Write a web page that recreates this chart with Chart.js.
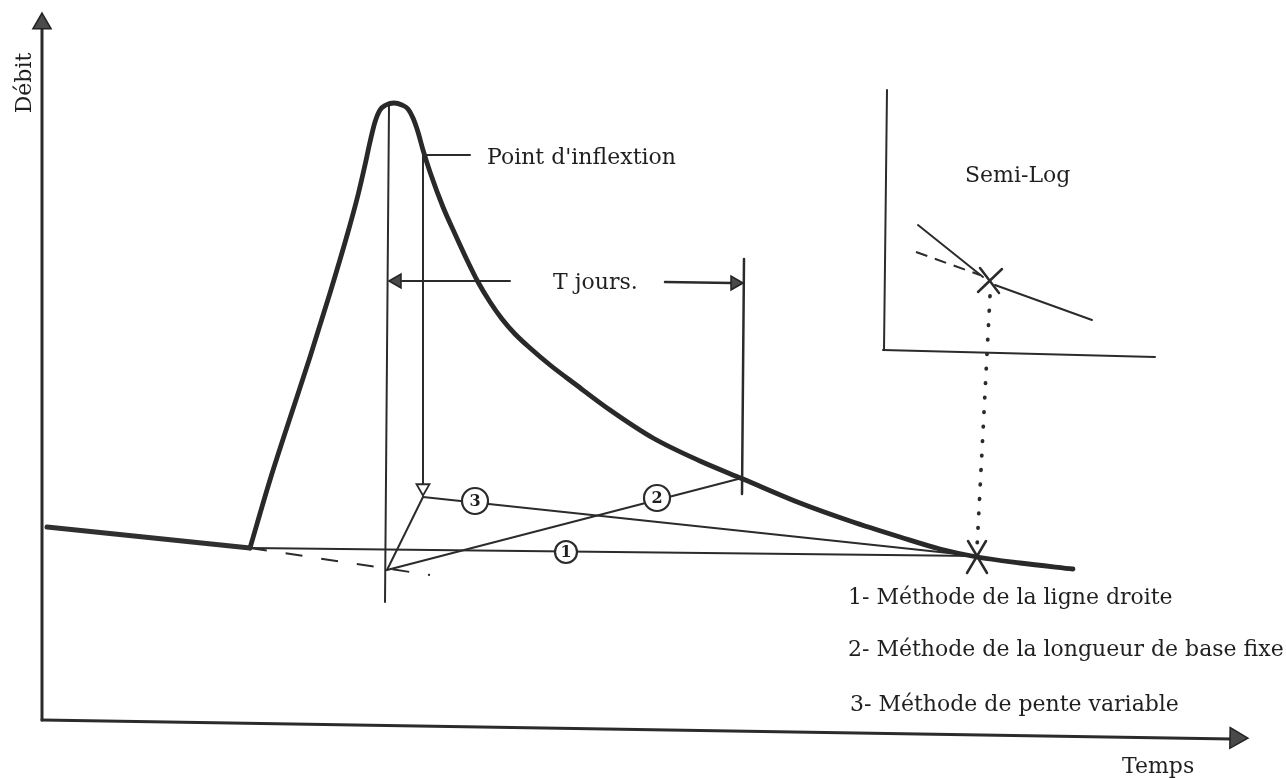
<!DOCTYPE html>
<html lang="fr">
<head>
<meta charset="utf-8">
<title>Séparation de l'écoulement de base</title>
<script src="https://cdn.jsdelivr.net/npm/chart.js@4.4.1/dist/chart.umd.min.js"></script>
<style>
  html, body { margin: 0; padding: 0; background: #ffffff; }
  #wrap { width: 1286px; height: 778px; position: relative; }
</style>
</head>
<body>
<div id="wrap"><canvas id="hydro"></canvas></div>
<script>
// Temps (t) / débit (Q) in drawing units, origin at the corner of the axes.

// Axes of the main graph
const axisDebit = [[0, 0], [0, 693]];
const axisTemps = [[0, 0], [1190, -19]];

// Baseflow recession before the flood, then the flood hydrograph
const baseflowBefore = [[5, 193], [208, 172]];
const hydrograph = [
  [208, 172], [228, 240], [248, 302], [268, 363], [288, 427], [306, 488],
  [316, 525], [323, 555], [328, 578], [333, 598], [338, 610], [344, 615],
  [352, 617], [360, 615], [366, 611], [371, 602], [376, 588], [381, 570],
  [388, 548], [401, 513], [413, 486], [425, 460], [436, 438], [448, 418],
  [460, 401], [473, 386], [488, 372], [508, 355], [533, 336], [568, 310],
  [611, 282], [658, 259], [701, 241], [758, 217], [808, 199], [858, 183],
  [898, 171], [935, 163], [978, 157], [1031, 151]
];

// Construction lines
const peakVertical = [[347, 614], [343, 118]];
const inflexionVertical = [[381, 565], [381, 229]];
const inflexionLeader = [[383, 565], [428, 565]];
const tJoursLeft = [[468, 439], [360, 439]];
const tJoursRight = [[623, 438], [690, 437]];
const tJoursEnd = [[702, 461], [700, 226]];
const extrapolation = [[208, 172], [388, 145]];
const lowLink = [[345, 150], [381, 223]];
const method1 = [[208, 172], [935, 164]];
const method2 = [[345, 150], [700, 242]];
const method3 = [[381, 223], [935, 164]];
const endCrossA = [[926, 179], [945, 147]];
const endCrossB = [[944, 179], [925, 147]];
const projection = [[948, 424], [935, 172]];

// Semi-log inset
const insetAxisV = [[845, 630], [842, 370]];
const insetAxisH = [[841, 370], [1113, 363]];
const insetSteep = [[876, 495], [941, 443]];
const insetFlat = [[953, 435], [1050, 400]];
const insetDashed = [[874, 468], [938, 445]];
const insetCrossA = [[938, 452], [957, 427]];
const insetCrossB = [[960, 451], [936, 428]];

// Arrow heads: position and direction (degrees)
const arrowTips = [[0, 696.5], [1194, -18], [355, 439], [693, 437]];
const arrowTurns = [0, 91, -90, 90];
const openArrow = [[381, 232]];

// Method numbers on their lines
const methodNumbers = ['1', '2', '3'];
const methodMarks = [[524, 168], [615, 222], [433, 219]];

// Texts
const notes = [
  { text: 'Débit', at: [-17, 637], rotate: -90, align: 'center' },
  { text: "Point d'inflextion", at: [445, 562] },
  { text: 'T jours.', at: [511, 437] },
  { text: 'Semi-Log', at: [923, 544] },
  { text: '1- Méthode de la ligne droite', at: [806, 122] },
  { text: '2- Méthode de la longueur de base fixe', at: [806, 70] },
  { text: '3- Méthode de pente variable', at: [808, 15] },
  { text: 'Temps', at: [1080, -47] }
];

const INK = '#2b2b2b';
const xy = pts => pts.map(p => ({ x: p[0], y: p[1] }));

function line(pts, extra) {
  return Object.assign({
    data: xy(pts), showLine: true, borderColor: INK, borderWidth: 2,
    pointRadius: 0, fill: false, clip: false, tension: 0, order: 5,
    borderCapStyle: 'round', borderJoinStyle: 'round'
  }, extra || {});
}

const datasets = [
  // method number circles (on top)
  {
    data: xy(methodMarks), showLine: false, pointStyle: 'circle',
    pointRadius: [11, 13, 13], pointBackgroundColor: '#ffffff',
    pointBorderColor: INK, pointBorderWidth: 2.2, clip: false, order: 0
  },
  // filled arrow heads
  {
    data: xy(arrowTips), showLine: false, pointStyle: 'triangle',
    pointRadius: [10.5, 12, 8, 8], pointRotation: arrowTurns,
    pointBackgroundColor: '#4a4a4a', pointBorderColor: '#222222',
    pointBorderWidth: 1.5, clip: false, order: 0
  },
  // open arrow head at the foot of the inflexion line
  {
    data: xy(openArrow), showLine: false, pointStyle: 'triangle',
    pointRadius: 7.5, pointRotation: 180, pointBackgroundColor: '#ffffff',
    pointBorderColor: INK, pointBorderWidth: 1.8, clip: false, order: 0
  },
  line(axisDebit, { borderWidth: 3 }),
  line(axisTemps, { borderWidth: 3 }),
  line(baseflowBefore, { borderWidth: 5, borderColor: '#303030' }),
  line(hydrograph, { borderWidth: 4.8, borderColor: '#292929', cubicInterpolationMode: 'monotone' }),
  line(peakVertical),
  line(inflexionVertical),
  line(inflexionLeader),
  line(tJoursLeft),
  line(tJoursRight, { borderWidth: 2.5 }),
  line(tJoursEnd, { borderWidth: 2.5 }),
  line(extrapolation, { borderDash: [17, 19], borderCapStyle: 'butt' }),
  line(lowLink),
  line(method1),
  line(method2),
  line(method3),
  line(endCrossA, { borderWidth: 2.5 }),
  line(endCrossB, { borderWidth: 2.5 }),
  line(projection, { borderWidth: 3.8, borderDash: [0.5, 14] }),
  line(insetAxisV),
  line(insetAxisH),
  line(insetSteep),
  line(insetFlat),
  line(insetDashed, { borderDash: [12, 8], borderCapStyle: 'butt' }),
  line(insetCrossA, { borderWidth: 2.5 }),
  line(insetCrossB, { borderWidth: 2.5 })
];

// Writes the labels and the numbers inside the circles
const textLayer = {
  id: 'textLayer',
  afterDatasetsDraw(chart) {
    const { ctx, scales: { x, y } } = chart;
    ctx.save();
    ctx.fillStyle = '#1f1f1f';
    ctx.font = '22px "DejaVu Serif"';
    ctx.textBaseline = 'middle';
    notes.forEach(n => {
      const px = x.getPixelForValue(n.at[0]);
      const py = y.getPixelForValue(n.at[1]);
      ctx.save();
      ctx.translate(px, py);
      if (n.rotate) ctx.rotate(n.rotate * Math.PI / 180);
      ctx.textAlign = n.align || 'left';
      ctx.fillText(n.text, 0, 0);
      ctx.restore();
    });
    ctx.font = 'bold 16px "DejaVu Serif"';
    ctx.textAlign = 'center';
    methodMarks.forEach((m, i) => {
      ctx.fillText(methodNumbers[i], x.getPixelForValue(m[0]), y.getPixelForValue(m[1]) + 1);
    });
    ctx.restore();
  }
};

new Chart(document.getElementById('hydro'), {
  type: 'scatter',
  data: { datasets },
  options: {
    responsive: true,
    maintainAspectRatio: false,
    animation: false,
    events: [],
    layout: { padding: 0, autoPadding: false },
    plugins: { legend: { display: false }, tooltip: { enabled: false }, title: { display: false } },
    scales: {
      x: { type: 'linear', min: -42, max: 1244, display: false },
      y: { type: 'linear', min: -58, max: 720, display: false }
    }
  },
  plugins: [textLayer]
});
</script>
</body>
</html>
